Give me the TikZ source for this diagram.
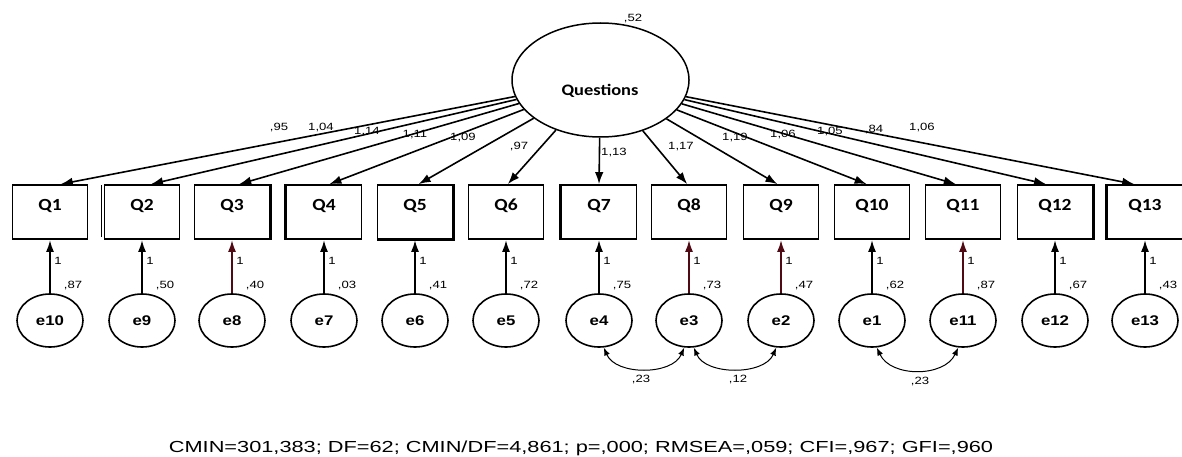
\documentclass[tikz,border=0pt]{standalone}
\usepackage{fontspec}
\setmainfont{Liberation Sans}
\newfontfamily\qfont{Carlito}
\usetikzlibrary{shapes.geometric,arrows.meta,calc}
\newcommand{\wide}[2][1.25]{\scalebox{#1}[1]{#2}}
\definecolor{dred}{RGB}{80,10,20}
\begin{document}
\begin{tikzpicture}[x=1pt,y=-1pt,
  obs/.style={draw,line width=1.7pt,rectangle,minimum width=75pt,minimum height=54pt,inner sep=0pt,font=\qfont\bfseries\fontsize{17}{17}\selectfont},
  lat/.style={draw,line width=1.5pt,ellipse,minimum width=177pt,minimum height=114pt,inner sep=0pt},
  err/.style={draw,line width=1.6pt,ellipse,minimum width=66pt,minimum height=53pt,inner sep=0pt,font=\bfseries\fontsize{14}{14}\selectfont},
  num/.style={inner sep=0pt,font=\fontsize{10.5}{10.5}\selectfont},
  load/.style={line width=1.6pt,-{Latex[length=12pt,width=8.5pt]}},
  eline/.style={line width=2pt,-{Latex[length=12pt,width=8pt]}},
  cov/.style={line width=1pt,{Latex[length=8pt,width=6pt]}-{Latex[length=8pt,width=6pt]}},
  edge/.style={line width=3pt}
]
\useasboundingbox (0,0) rectangle (1182,457);
\fill[white] (0,0) rectangle (1182,457);

\node[lat] (F) at (600.5,80) {};
\node[inner sep=0pt,font=\qfont\bfseries\fontsize{16}{16}\selectfont] (Ft) at (600,91) {\wide[1.15]{Questions}};
\node[num] (v0) at (633,19) {\wide{,52}};

% observed boxes and error terms
\foreach \i/\x/\e/\var in {1/50/e10/{,87}, 2/142/e9/{,50}, 3/232/e8/{,40}, 4/324/e7/{,03}, 5/415/e6/{,41}, 6/506/e5/{,72}, 7/599/e4/{,75}, 8/689/e3/{,73}, 9/781/e2/{,47}, 10/872/e1/{,62}, 11/963/e11/{,87}, 12/1055/e12/{,67}, 13/1145/e13/{,43}}{
  \node[obs] (Q\i) at (\x,212) {\raisebox{14pt}{\wide[1.15]{Q\i}}};
  \node[err] (E\i) at (\x,320.5) {\wide[1.2]{\e}};
  \node[num] (V\i) at (\x+23,286) {\wide{\var}};
  \node[num] (O\i) at (\x+8,261) {\wide{1}};
}

% uneven box edges
\draw[line width=1.2pt] (Q2.north west) ++(-2.5,1) -- ++(0,52);
\draw[edge] (Q3.north east) -- (Q3.south east);
\draw[edge] (Q4.north west) -- (Q4.south west);
\draw[edge] (Q5.north east) -- (Q5.south east) -- (Q5.south west);
\draw[edge] (Q7.north west) -- (Q7.south west);
\draw[edge] (Q12.north east) -- (Q12.south east);
\draw[edge] (Q13.north west) -- (Q13.south west);

% loadings
\foreach \i in {1,...,13}{\draw[load] (F) -- ($(Q\i.north)+({(7-\i)*1.8},0)$);}
% error paths
\foreach \i in {1,2,4,5,6,7,10,12,13}{\draw[eline] (E\i) -- (Q\i);}
\foreach \i in {3,8,9,11}{\draw[eline,dred] (E\i) -- (Q\i);}

% loading estimates
\foreach \i/\x/\y/\l in {1/279/128/{,95},2/321/128/{1,04},3/367/132/{1,14},4/415/135/{1,11},5/463/138/{1,09},6/519/147/{,97},7/614/153/{1,13},8/681/147/{1,17},9/735/138/{1,19},10/783/135/{1,06},11/830/132/{1,05},12/874/130/{,84},13/922/128/{1,06}}{
  \node[num] (L\i) at (\x,\y) {\wide{\l}};
}

% covariances
\draw[cov] (E7.-80) .. controls +(12,28) and +(-12,28) .. (E8.-100);
\draw[cov] (E8.-80) .. controls +(12,28) and +(-12,28) .. (E9.-100);
\draw[cov] (E10.-80) .. controls +(14,30) and +(-14,30) .. (E11.-100);
\node[num] (C1) at (641,380) {\wide{,23}};
\node[num] (C2) at (738,380) {\wide{,12}};
\node[num] (C3) at (920,382) {\wide{,23}};

\node[inner sep=0pt,font=\fontsize{16}{16}\selectfont] (fit) at (581,448) {\wide[1.36]{CMIN=301,383; DF=62; CMIN/DF=4,861; p=,000; RMSEA=,059; CFI=,967; GFI=,960}};
\end{tikzpicture}
\end{document}
